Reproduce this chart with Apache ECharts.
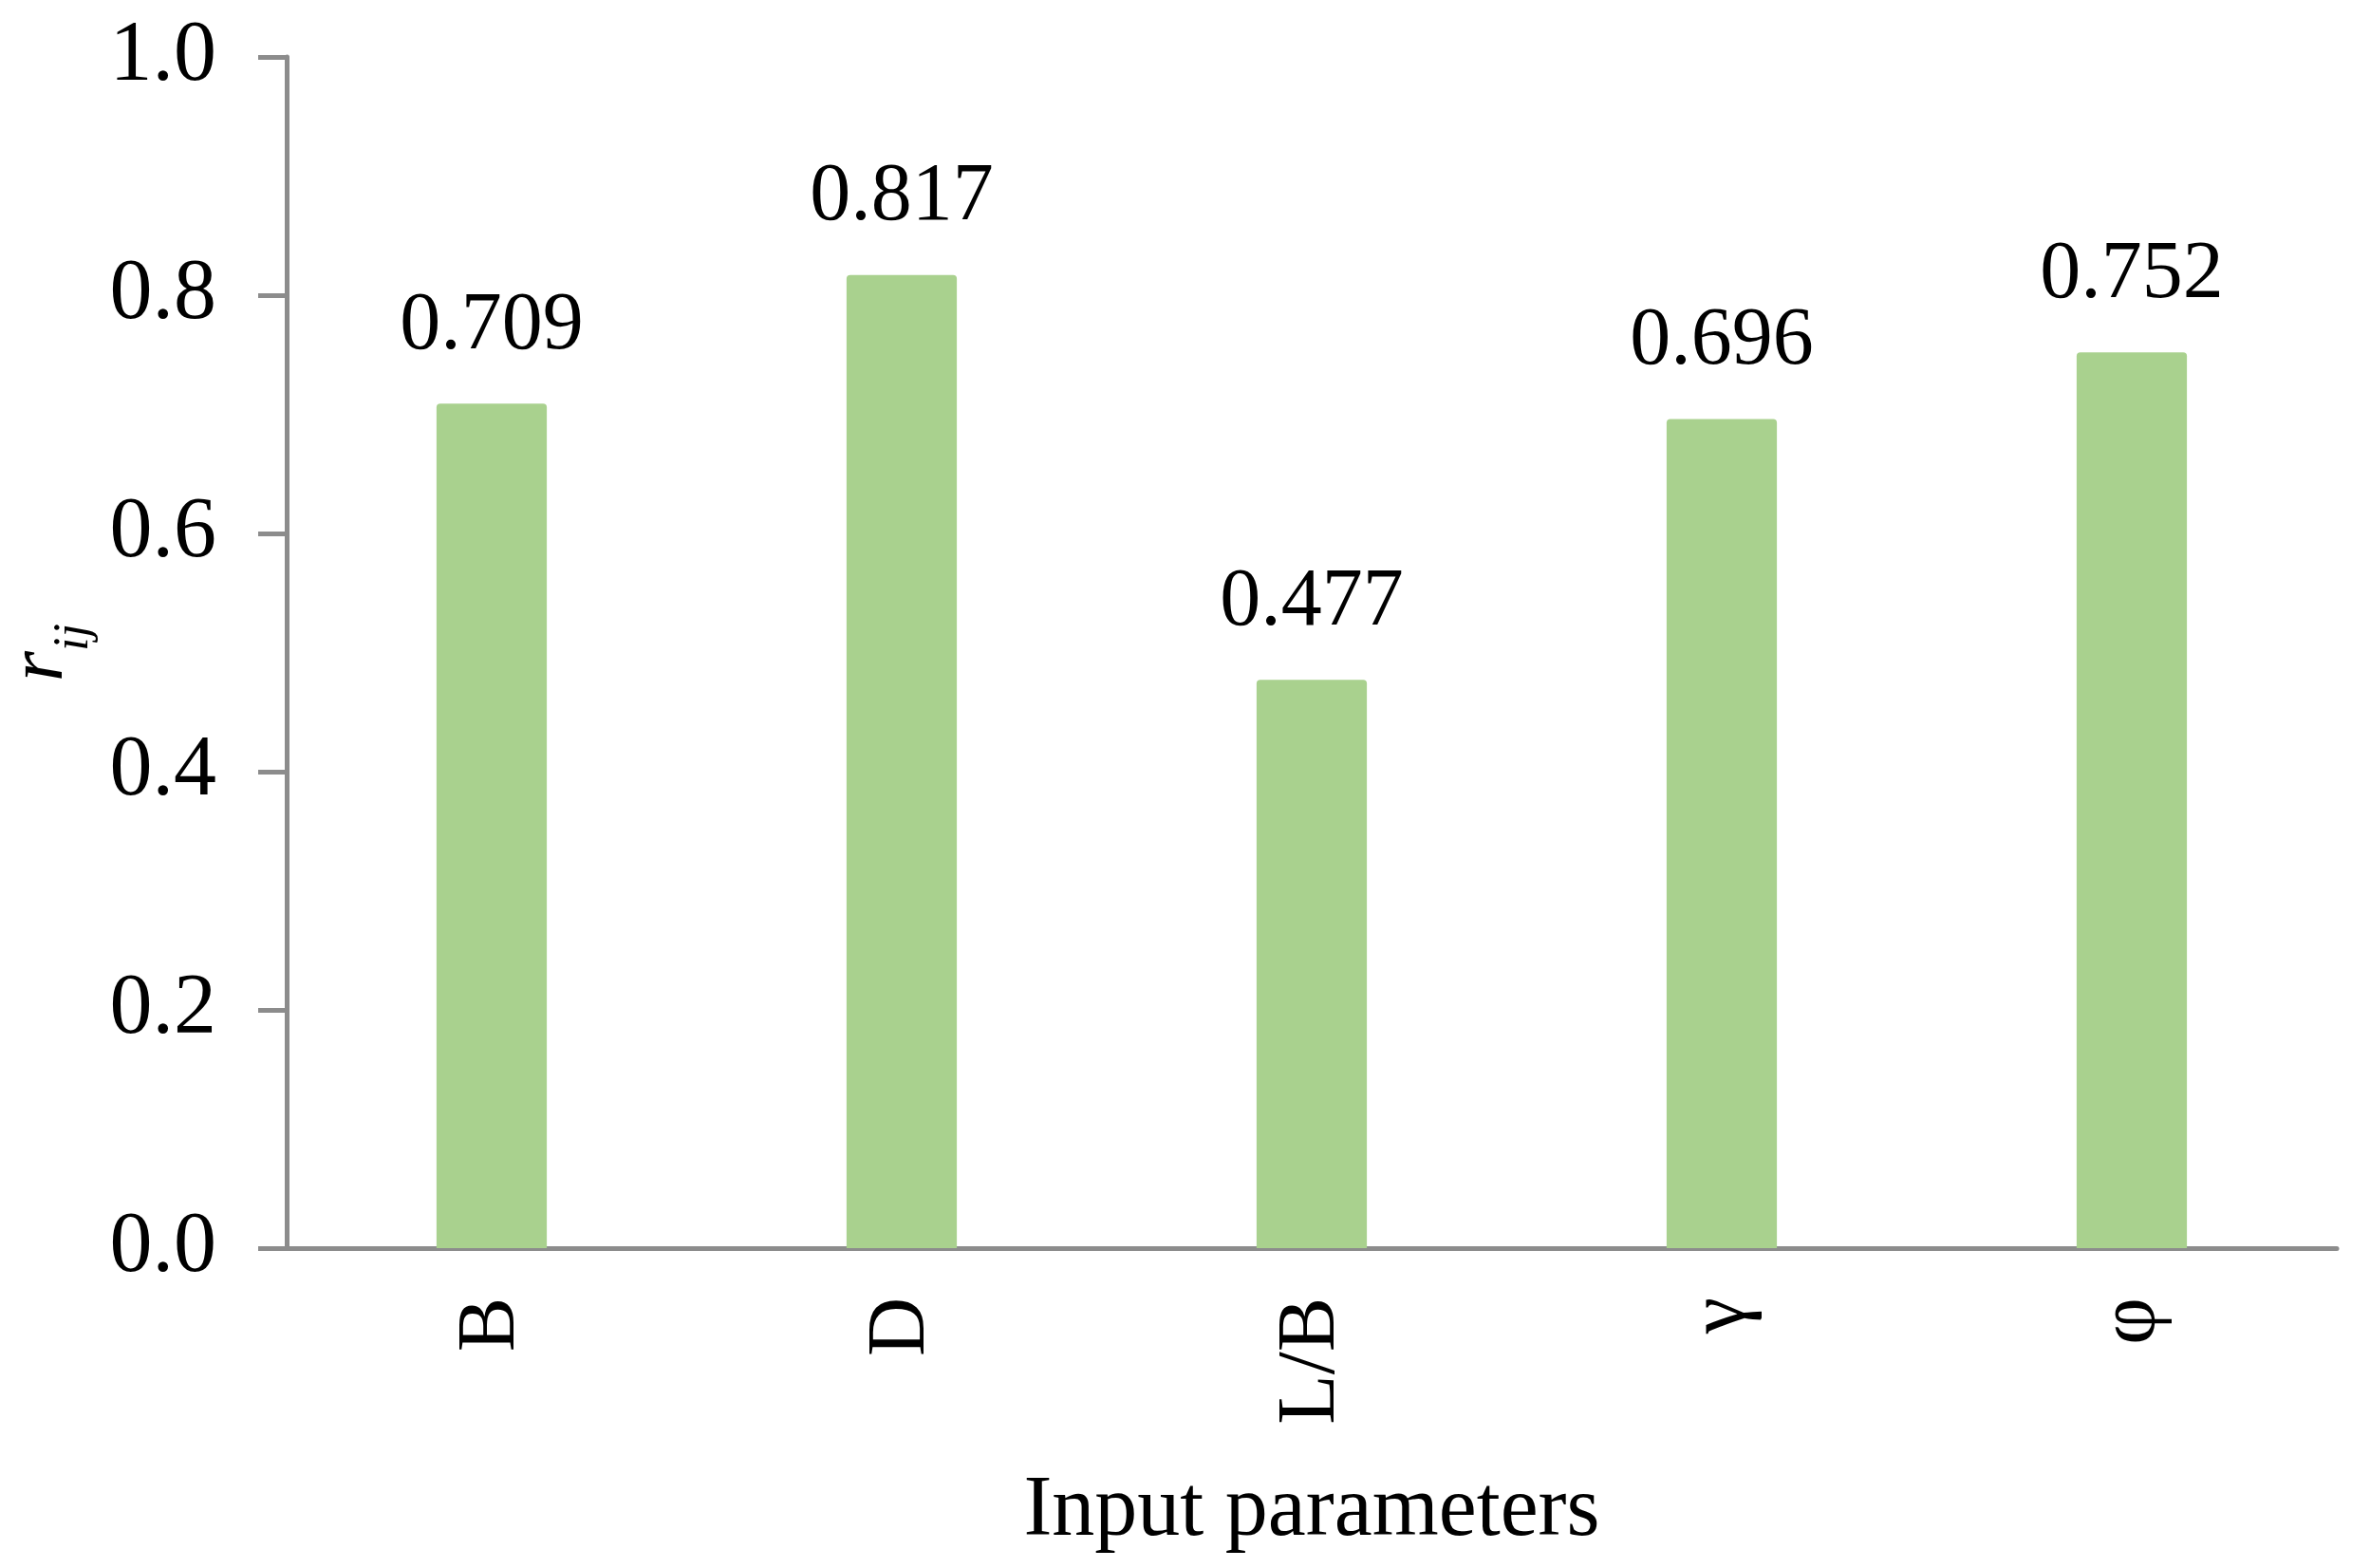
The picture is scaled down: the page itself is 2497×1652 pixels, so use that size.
<!DOCTYPE html>
<html>
<head>
<meta charset="utf-8">
<script src="https://cdn.jsdelivr.net/npm/echarts@6/dist/echarts.min.js"></script>
<style>
html,body{margin:0;padding:0;background:#fff;}
#chart{width:2497px;height:1652px;}
</style>
</head>
<body>
<div id="chart"></div>
<script>
const categories = ['B', 'D', 'L/B', 'γ', 'φ'];
const values = [0.709, 0.817, 0.477, 0.696, 0.752];
const yTicks = [0.0, 0.2, 0.4, 0.6, 0.8, 1.0];
const xTitle = 'Input parameters';

const FONT = '"Liberation Serif", "DejaVu Serif", serif';
const AXIS_COLOR = '#8c8c8c';

const chart = echarts.init(document.getElementById('chart'), null, {renderer: 'canvas'});
chart.setOption({
  backgroundColor: '#ffffff',
  animation: false,
  grid: {left: 302, right: 35, top: 60, bottom: 337, containLabel: false, outerBoundsMode: 'none'},
  xAxis: {
    type: 'category',
    data: categories,
    axisLine: {show: true, lineStyle: {color: AXIS_COLOR, width: 5}},
    axisTick: {show: false},
    axisLabel: {rotate: 90, margin: 52, color: '#000', fontFamily: FONT, fontSize: 86},
    name: xTitle,
    nameLocation: 'middle',
    nameGap: 233,
    nameTextStyle: {color: '#000', fontFamily: FONT, fontSize: 90}
  },
  yAxis: {
    type: 'value',
    min: 0, max: 1, interval: 0.2,
    splitLine: {show: false},
    axisLine: {show: true, lineStyle: {color: AXIS_COLOR, width: 5}},
    axisTick: {show: true, inside: false, length: 30, lineStyle: {color: AXIS_COLOR, width: 5}},
    axisLabel: {
      margin: 74, color: '#000', fontFamily: FONT, fontSize: 90,
      formatter: v => yTicks.find(t => Math.abs(t - v) < 1e-9).toFixed(1)
    },
    name: '{r|r}{s|ij}',
    nameLocation: 'middle',
    nameRotate: 90,
    nameGap: 210,
    nameTextStyle: {
      rich: {
        r: {fontFamily: FONT, fontStyle: 'italic', fontSize: 82, color: '#000', verticalAlign: 'bottom', lineHeight: 84},
        s: {fontFamily: FONT, fontStyle: 'italic', fontSize: 52, color: '#000', verticalAlign: 'bottom', padding: [0, 0, -20, 0], lineHeight: 84}
      }
    }
  },
  series: [{
    type: 'bar',
    data: values,
    barWidth: '26.9%',
    itemStyle: {color: '#a9d18e', borderRadius: [4, 4, 0, 0]},
    label: {
      show: true, position: 'top', distance: 38,
      color: '#000', fontFamily: FONT, fontSize: 86,
      formatter: p => p.value.toFixed(3)
    }
  }]
});
</script>
</body>
</html>
